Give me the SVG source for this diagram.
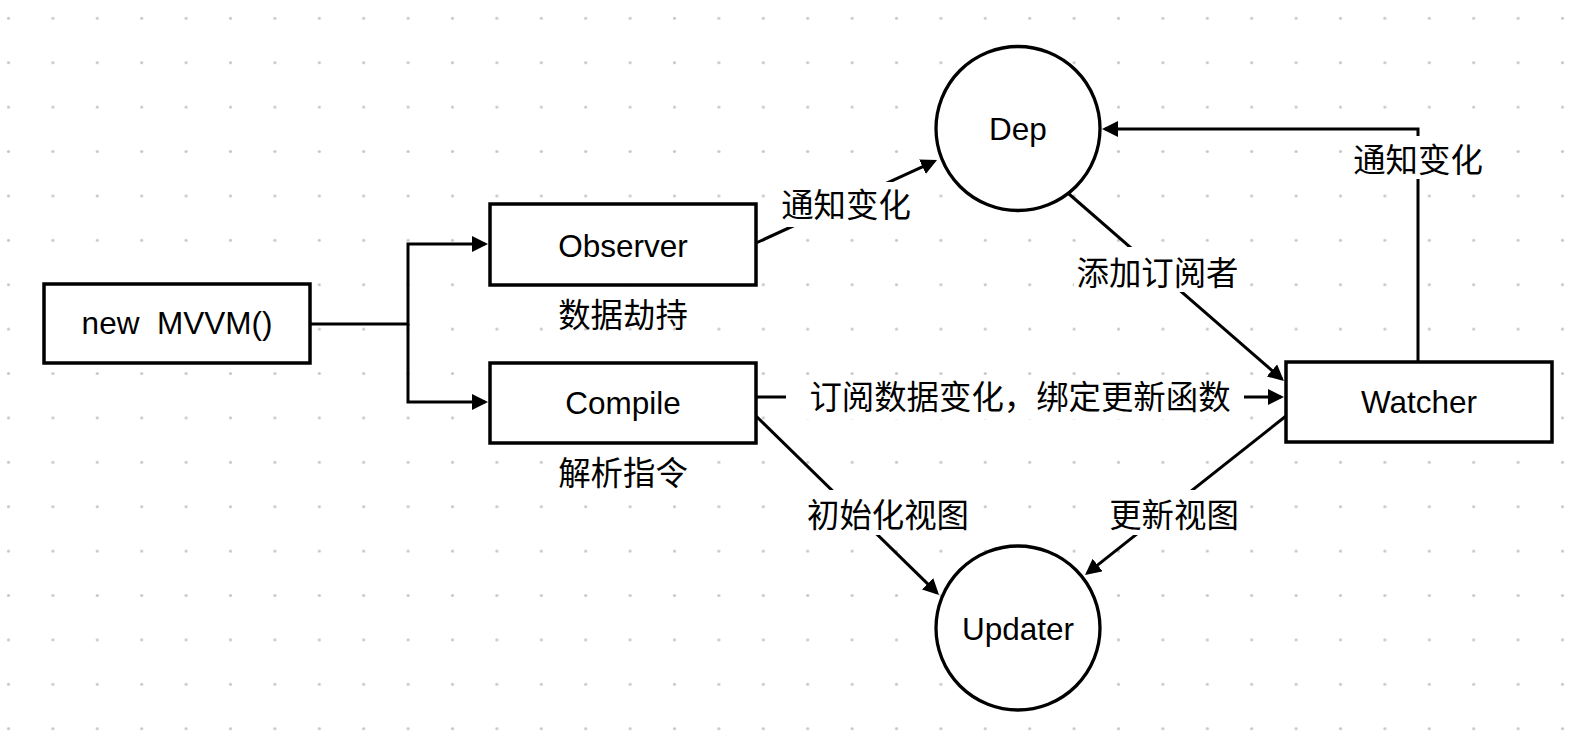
<svg xmlns="http://www.w3.org/2000/svg" width="1594" height="742" viewBox="0 0 1594 742">
<defs>
  <pattern id="grid" x="-13.7" y="-3.9" width="44.4" height="44.4" patternUnits="userSpaceOnUse">
    <circle cx="22.2" cy="22.2" r="1.6" fill="#c8c8c8"/>
  </pattern>
  <marker id="arrow" markerUnits="userSpaceOnUse" markerWidth="16" markerHeight="16" viewBox="0 0 16 16" refX="13" refY="8" orient="auto">
    <path d="M0,0 L16,8 L0,16 z" fill="#000"/>
  </marker>
  <style>
    .box { fill: #fff; stroke: #000; stroke-width: 3.5; }
    .circ { fill: #fff; stroke: #000; stroke-width: 3.3; }
    .edge { fill: none; stroke: #000; stroke-width: 3; stroke-linejoin: miter; }
    .arr { marker-end: url(#arrow); }
    .t { font-family: "Liberation Sans", "Noto Sans CJK SC", sans-serif; font-size: 31.5px; fill: #000; text-anchor: middle; }
    .cjk { font-family: "Noto Sans CJK SC", "Liberation Sans", sans-serif; font-size: 32.4px; fill: #000; text-anchor: middle; }
    .lbg { fill: #fff; }
  </style>
</defs>
<rect x="0" y="0" width="1594" height="742" fill="#fff"/>
<rect x="0" y="0" width="1594" height="742" fill="url(#grid)"/>

<g id="connectors">
  <path class="edge arr" d="M310,324 H408 V244 H485"/>
  <path class="edge arr" d="M408,324 V402 H485"/>
  <path class="edge arr" d="M756,243 L934.3,161.3"/>
  <path class="edge arr" d="M1418,362 V129 H1105"/>
  <path class="edge arr" d="M1069,194 L1281.7,379"/>
  <path class="edge arr" d="M756,397 H1281"/>
  <path class="edge arr" d="M756,416 L936.9,592.9"/>
  <path class="edge arr" d="M1286,416 L1087.4,573.1"/>

  <g id="label-notify-1">
    <rect class="lbg" x="778" y="182" width="136" height="45"/>
    <text class="cjk" x="846" y="216.5">通知变化</text>
  </g>
  <g id="label-notify-2">
    <rect class="lbg" x="1350" y="136" width="136" height="43"/>
    <text class="cjk" x="1418" y="172">通知变化</text>
  </g>
  <g id="label-add-sub">
    <rect class="lbg" x="1074" y="247" width="167" height="45"/>
    <text class="cjk" x="1157.5" y="285">添加订阅者</text>
  </g>
  <g id="label-subscribe">
    <rect class="lbg" x="786" y="375" width="458" height="44"/>
    <text class="cjk" x="1020" y="409">订阅数据变化，绑定更新函数</text>
  </g>
  <g id="label-init-view">
    <rect class="lbg" x="805" y="490" width="166" height="45"/>
    <text class="cjk" x="888" y="526.5">初始化视图</text>
  </g>
  <g id="label-update-view">
    <rect class="lbg" x="1106" y="490" width="136" height="45"/>
    <text class="cjk" x="1174" y="526.5">更新视图</text>
  </g>
</g>

<g id="node-mvvm">
  <rect class="box" x="44" y="284" width="266" height="79"/>
  <text class="t" x="177" y="334" xml:space="preserve">new  MVVM()</text>
</g>

<g id="node-observer">
  <rect class="box" x="490" y="204" width="266" height="81"/>
  <text class="t" x="623" y="256.5">Observer</text>
  <text class="cjk" x="623" y="327">数据劫持</text>
</g>

<g id="node-compile">
  <rect class="box" x="490" y="363" width="266" height="80"/>
  <text class="t" x="623" y="414">Compile</text>
  <text class="cjk" x="623" y="485">解析指令</text>
</g>

<g id="node-dep">
  <circle class="circ" cx="1018" cy="128.5" r="82"/>
  <text class="t" x="1018" y="140">Dep</text>
</g>

<g id="node-watcher">
  <rect class="box" x="1286" y="362" width="266" height="80"/>
  <text class="t" x="1419" y="413">Watcher</text>
</g>

<g id="node-updater">
  <circle class="circ" cx="1018" cy="628" r="82"/>
  <text class="t" x="1018" y="640">Updater</text>
</g>
</svg>
